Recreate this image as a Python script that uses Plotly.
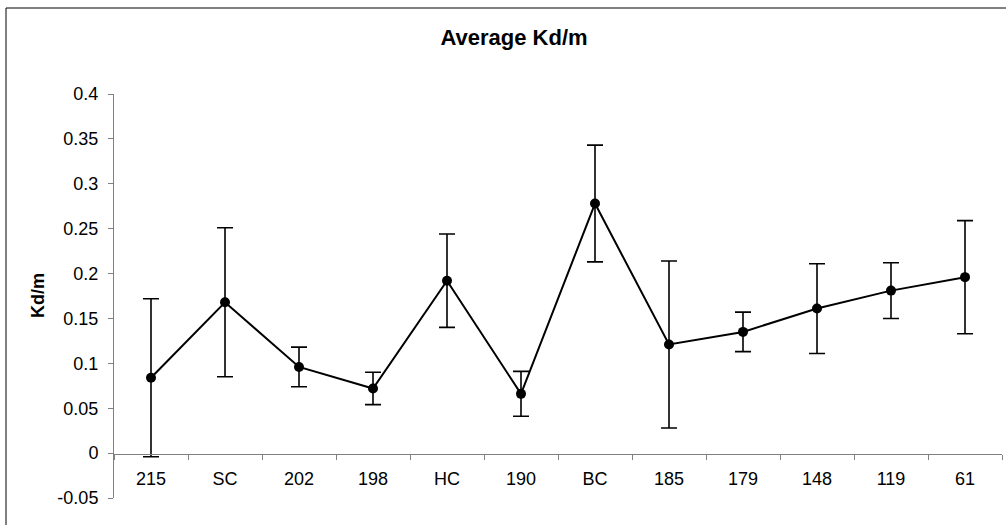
import plotly.graph_objects as go

categories = ["215", "SC", "202", "198", "HC", "190", "BC", "185", "179", "148", "119", "61"]
avg_kd = [0.084, 0.168, 0.096, 0.072, 0.192, 0.066, 0.278, 0.121, 0.135, 0.161, 0.181, 0.196]
err_kd = [0.088, 0.083, 0.022, 0.018, 0.052, 0.025, 0.065, 0.093, 0.022, 0.050, 0.031, 0.063]
y_tickvals = [-0.05, 0, 0.05, 0.1, 0.15, 0.2, 0.25, 0.3, 0.35, 0.4]
y_ticktext = ["-0.05", "0", "0.05", "0.1", "0.15", "0.2", "0.25", "0.3", "0.35", "0.4"]

FONT = "Arial, Liberation Sans, sans-serif"
W, H = 1006, 525
L, R, T, B = 114, 4, 94, 27
pw = W - L - R
ph = H - T - B

fig = go.Figure()
fig.add_trace(go.Scatter(
    x=categories, y=avg_kd,
    mode="lines+markers",
    line=dict(color="black", width=2),
    marker=dict(color="black", size=10),
    error_y=dict(type="data", array=err_kd, visible=True, color="black", thickness=1.6, width=8),
    showlegend=False,
))

axis_y0 = (H - B - 454) / ph

fig.update_layout(
    width=W, height=H,
    margin=dict(l=L, r=R, t=T, b=B),
    paper_bgcolor="white", plot_bgcolor="white",
    font=dict(family=FONT, size=18, color="black"),
    title=dict(text="<b>Average Kd/m</b>", x=514 / W, xref="container", xanchor="center",
               y=1 - 37 / H, yref="container", yanchor="middle",
               font=dict(family=FONT, size=22, color="black")),
    xaxis=dict(
        type="category", range=[-0.5, 11.5],
        anchor="free", position=axis_y0,
        showline=True, linecolor="#808080", linewidth=1,
        ticks="outside", tickson="boundaries", ticklen=5, tickcolor="#808080", tickwidth=1,
        showgrid=False, zeroline=False,
        tickfont=dict(family=FONT, size=18, color="black"),
        ticklabelstandoff=8,
    ),
    yaxis=dict(
        range=[-0.05, 0.4], tickvals=y_tickvals, ticktext=y_ticktext,
        showline=True, linecolor="#808080", linewidth=1,
        ticks="outside", ticklen=5, tickcolor="#808080", tickwidth=1,
        showgrid=False, zeroline=False,
        tickfont=dict(family=FONT, size=18, color="black"),
        ticklabelstandoff=6,
    ),
    annotations=[dict(
        text="<b>Kd/m</b>", textangle=-90, showarrow=False,
        xref="paper", yref="paper", x=(38 - L) / pw, y=0.5,
        xanchor="center", yanchor="middle",
        font=dict(family=FONT, size=18, color="black"),
    )],
    shapes=[dict(
        type="rect", xref="paper", yref="paper",
        x0=(6 - L) / pw, x1=(1030 - L) / pw,
        y0=(H - B - 540) / ph, y1=(H - B - 8) / ph,
        line=dict(color="black", width=1), fillcolor="rgba(0,0,0,0)", layer="below",
    )],
)

fig.write_html("out.html")
